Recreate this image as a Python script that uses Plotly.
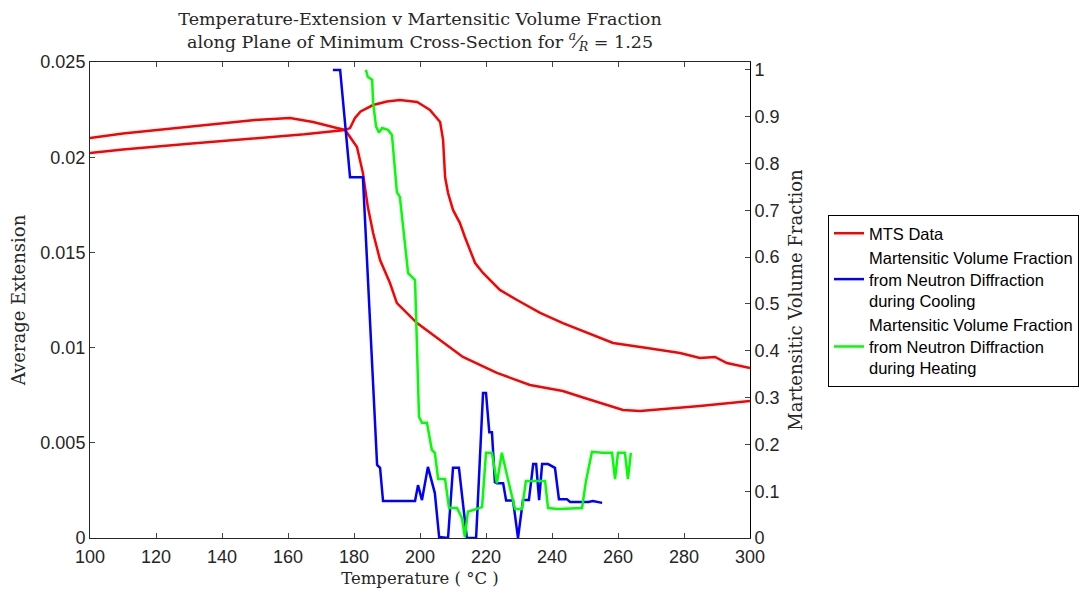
import plotly.graph_objects as go

# MTS extensometer data: heating branch (100 -> 300 degC)
mts_heat_temp = [100.0, 110.0, 130.0, 150.0, 165.0, 177.3, 178.8, 180.3, 182.0, 185.8,
                 190.0, 193.9, 199.1, 201.0, 203.0, 206.1, 207.0, 207.6, 208.5, 210.0,
                 212.1, 213.6, 215.2, 216.7, 219.1, 224.2, 229.4, 236.4, 243.3, 250.6,
                 258.5, 268.8, 278.8, 284.8, 289.4, 293.0, 300.0]
mts_heat_ext = [0.02022, 0.02040, 0.02070, 0.02100, 0.02120, 0.02143, 0.02153, 0.02206, 0.02240, 0.02274,
                0.02292, 0.02300, 0.02290, 0.02270, 0.02248, 0.02185, 0.02090, 0.01896, 0.01812, 0.01723,
                0.01654, 0.01581, 0.01513, 0.01444, 0.01392, 0.01303, 0.01250, 0.01182, 0.01129, 0.01077,
                0.01024, 0.00998, 0.00972, 0.00945, 0.00951, 0.00919, 0.00893]

# MTS extensometer data: cooling branch (300 -> 100 degC)
mts_cool_temp = [300.0, 284.8, 266.7, 261.5, 249.4, 243.3, 233.3, 223.3, 213.0, 203.0,
                 199.1, 193.0, 190.9, 187.9, 185.8, 184.2, 183.3, 182.7, 181.8, 180.9,
                 178.8, 177.3, 174.8, 167.6, 160.6, 150.0, 130.0, 110.0, 100.0]
mts_cool_ext = [0.00720, 0.00693, 0.00667, 0.00672, 0.00738, 0.00772, 0.00804, 0.00867, 0.00951, 0.01077,
                0.01129, 0.01234, 0.01339, 0.01460, 0.01602, 0.01738, 0.01843, 0.01917, 0.01985, 0.02054,
                0.02106, 0.02143, 0.02153, 0.02185, 0.02206, 0.02195, 0.02160, 0.02125, 0.02101]

# Martensitic volume fraction from neutron diffraction, cooling
cool_temp = [173.6, 175.8, 178.8, 182.7, 187.0, 187.9, 188.8, 198.5, 199.4,
             200.6, 202.4, 204.5, 205.8, 208.5, 210.0, 211.8, 214.2, 217.0, 219.1,
             220.0, 221.0, 221.8, 222.7, 223.3, 225.2, 226.1, 228.2, 229.7, 231.2,
             233.0, 234.3, 235.2, 236.1, 237.0, 238.8, 240.9, 242.1, 244.5, 245.5,
             251.0, 252.4, 255.2]
cool_frac = [1.000, 1.000, 0.771, 0.771, 0.156, 0.150, 0.079, 0.079, 0.113,
             0.081, 0.152, 0.096, 0.002, 0.000, 0.150, 0.150, 0.000, 0.000, 0.310,
             0.310, 0.226, 0.226, 0.119, 0.117, 0.117, 0.080, 0.080, 0.000, 0.081,
             0.081, 0.158, 0.158, 0.081, 0.158, 0.158, 0.150, 0.083, 0.083, 0.077,
             0.077, 0.079, 0.075]

# Martensitic volume fraction from neutron diffraction, heating
heat_temp = [183.6, 184.2, 185.5, 185.8, 186.7, 187.6, 188.5, 190.3, 191.5, 193.0,
             193.9, 196.4, 198.5, 199.7, 200.6, 202.1, 203.6, 204.5, 205.5, 207.6,
             208.8, 211.2, 212.7, 213.6, 214.5, 216.1, 218.8, 220.0, 221.8, 223.3,
             224.8, 226.7, 228.8, 230.9, 232.1, 237.9, 238.8, 241.8, 249.1, 250.3,
             252.1, 255.2, 258.2, 259.1, 260.0, 262.1, 263.0, 263.9]
heat_frac = [1.000, 0.985, 0.979, 0.929, 0.879, 0.866, 0.876, 0.872, 0.861, 0.739,
             0.729, 0.566, 0.551, 0.259, 0.246, 0.246, 0.188, 0.182, 0.126, 0.126,
             0.064, 0.064, 0.043, 0.002, 0.056, 0.060, 0.066, 0.182, 0.182, 0.117,
             0.182, 0.124, 0.062, 0.062, 0.122, 0.122, 0.064, 0.062, 0.064, 0.122,
             0.184, 0.182, 0.182, 0.126, 0.182, 0.182, 0.126, 0.182]

x_ticks = [100, 120, 140, 160, 180, 200, 220, 240, 260, 280, 300]
left_ticks = [0, 0.005, 0.01, 0.015, 0.02, 0.025]
right_ticks = [0, 0.1, 0.2, 0.3, 0.4, 0.5, 0.6, 0.7, 0.8, 0.9, 1]

serif = "DejaVu Serif, Liberation Serif, serif"
sans = "Liberation Sans, Arial, sans-serif"
axis_col = "#262626"

fig = go.Figure()

fig.add_trace(go.Scatter(
    x=mts_heat_temp + [None] + mts_cool_temp,
    y=mts_heat_ext + [None] + mts_cool_ext,
    mode="lines", name="MTS Data",
    line=dict(color="#ff0000", width=2.5),
    legendgroup="a", yaxis="y"))

fig.add_trace(go.Scatter(
    x=cool_temp, y=cool_frac, mode="lines",
    name="Martensitic Volume Fraction<br>from Neutron Diffraction<br>during Cooling",
    line=dict(color="#0000ff", width=2.5),
    legendgroup="b", yaxis="y2"))

fig.add_trace(go.Scatter(
    x=heat_temp, y=heat_frac, mode="lines",
    name="Martensitic Volume Fraction<br>from Neutron Diffraction<br>during Heating",
    line=dict(color="#00ff00", width=2.5),
    legendgroup="c", yaxis="y2"))

fig.update_layout(
    width=1080, height=595,
    margin=dict(l=90, r=330, t=62, b=57, autoexpand=False),
    paper_bgcolor="white", plot_bgcolor="white",
    title=dict(
        text="Temperature-Extension v Martensitic Volume Fraction<br>"
             "along Plane of Minimum Cross-Section for <i><sup>a</sup>⁄<sub>R</sub></i> = 1.25",
        x=420 / 1080, xanchor="center", xref="container",
        yref="container", y=0.958, yanchor="top",
        font=dict(family=serif, size=17.5, color="#262626")),
    xaxis=dict(
        range=[100, 300], tickvals=x_ticks, ticks="inside", ticklen=5,
        showline=True, linecolor=axis_col, mirror="ticks", showgrid=False, zeroline=False,
        tickfont=dict(family=sans, size=18, color=axis_col), ticklabelstandoff=2,
        title=dict(text="Temperature ( °C )", font=dict(family=serif, size=16.5, color=axis_col),
                   standoff=6)),
    yaxis=dict(
        range=[0, 0.025], tickvals=left_ticks, ticks="inside", ticklen=5,
        showline=True, linecolor=axis_col, showgrid=False, zeroline=False,
        tickfont=dict(family=sans, size=18, color=axis_col),
        title=dict(text="Average Extension", font=dict(family=serif, size=18, color=axis_col),
                   standoff=10)),
    yaxis2=dict(
        range=[0, 1.017], tickvals=right_ticks, ticks="inside", ticklen=5,
        overlaying="y", side="right",
        showline=True, linecolor="#000000", showgrid=False, zeroline=False,
        tickfont=dict(family=sans, size=18, color=axis_col),
        title=dict(text="Martensitic Volume Fraction", font=dict(family=serif, size=18, color=axis_col),
                   standoff=10)),
    legend=dict(
        xref="container", yref="container",
        x=828 / 1080, xanchor="left", y=1 - 215 / 595, yanchor="top",
        bgcolor="white", bordercolor="#000000", borderwidth=1,
        font=dict(family=sans, size=16.5, color="#000000"),
        tracegroupgap=0),
    showlegend=True,
)

fig.write_html("out.html")
